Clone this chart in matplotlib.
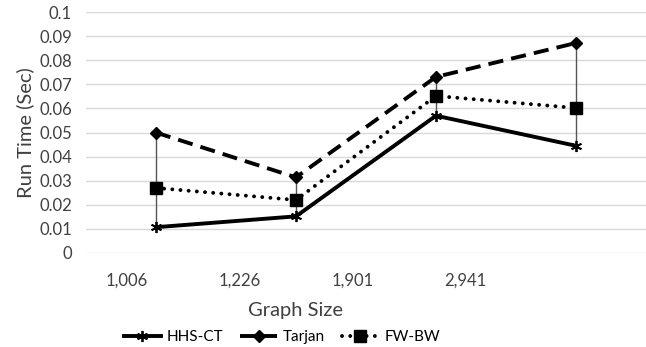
import matplotlib.pyplot as plt
import numpy as np

plt.rcParams['font.family'] = ['Lato', 'DejaVu Sans']

sizes = ["1,006", "1,226", "1,901", "2,941"]
hhs_ct = [0.0107, 0.0152, 0.0570, 0.0445]
tarjan = [0.0500, 0.0314, 0.0731, 0.0872]
fw_bw = [0.0270, 0.0220, 0.0652, 0.0602]

fig = plt.figure(figsize=(6.46, 3.47), dpi=100)
ax = fig.add_axes([0.133, 0.271, 0.867, 0.694])
# the category labels in the source sit on a narrower band than the plot
lab = fig.add_axes([0.108, 0.271, 0.700, 0.694], frameon=False)

x = np.arange(len(sizes))

# high-low lines
allv = np.array([hhs_ct, tarjan, fw_bw])
ax.vlines(x, allv.min(axis=0), allv.max(axis=0), color='#555555', lw=1, zorder=2)

ax.plot(x, hhs_ct, color='black', lw=2.8, marker=(6, 2, 0), ms=8, mew=1.3,
        label='HHS-CT', zorder=3)
ax.plot(x, tarjan, color='black', lw=2.8, dashes=(3.9, 2.1), marker='D', ms=6,
        label='Tarjan', zorder=3)
ax.plot(x, fw_bw, color='black', lw=2.8, dashes=(0.01, 2.1), dash_capstyle='round',
        marker='s', ms=8, label='FW-BW', zorder=3)

ax.set_xlim(-0.5, 3.5)
ax.set_ylim(0, 0.1)
ax.set_yticks(np.arange(0, 0.101, 0.01))
ax.set_yticklabels(['0'] + ['%.2f' % v for v in np.arange(0.01, 0.095, 0.01)] + ['0.1'])
ax.set_xticks([])
ax.grid(axis='y', color='#d9d9d9', lw=1)
ax.set_axisbelow(True)
for s in ax.spines.values():
    s.set_visible(False)
ax.tick_params(length=0, labelsize=12, colors='#404040')
ax.tick_params(axis='y', pad=10)
ax.set_ylabel('Run Time (Sec)', fontsize=14.5, color='#404040', labelpad=4)

lab.patch.set_alpha(0)
lab.set_xlim(-0.5, 3.5)
lab.set_xticks(x)
lab.set_xticklabels(sizes)
lab.set_yticks([])
lab.tick_params(length=0, labelsize=12, colors='#404040', pad=14)
lab.set_xlabel('Graph Size', fontsize=14.5, color='#404040', labelpad=10)

handles, labels = ax.get_legend_handles_labels()
lab.legend(handles, labels, loc='center', bbox_to_anchor=(0.47, -0.35), ncol=3,
           frameon=False, fontsize=11, handlelength=2.4, columnspacing=1.1,
           handletextpad=0.4, borderpad=0)

fig.savefig('out.png', dpi=100)
